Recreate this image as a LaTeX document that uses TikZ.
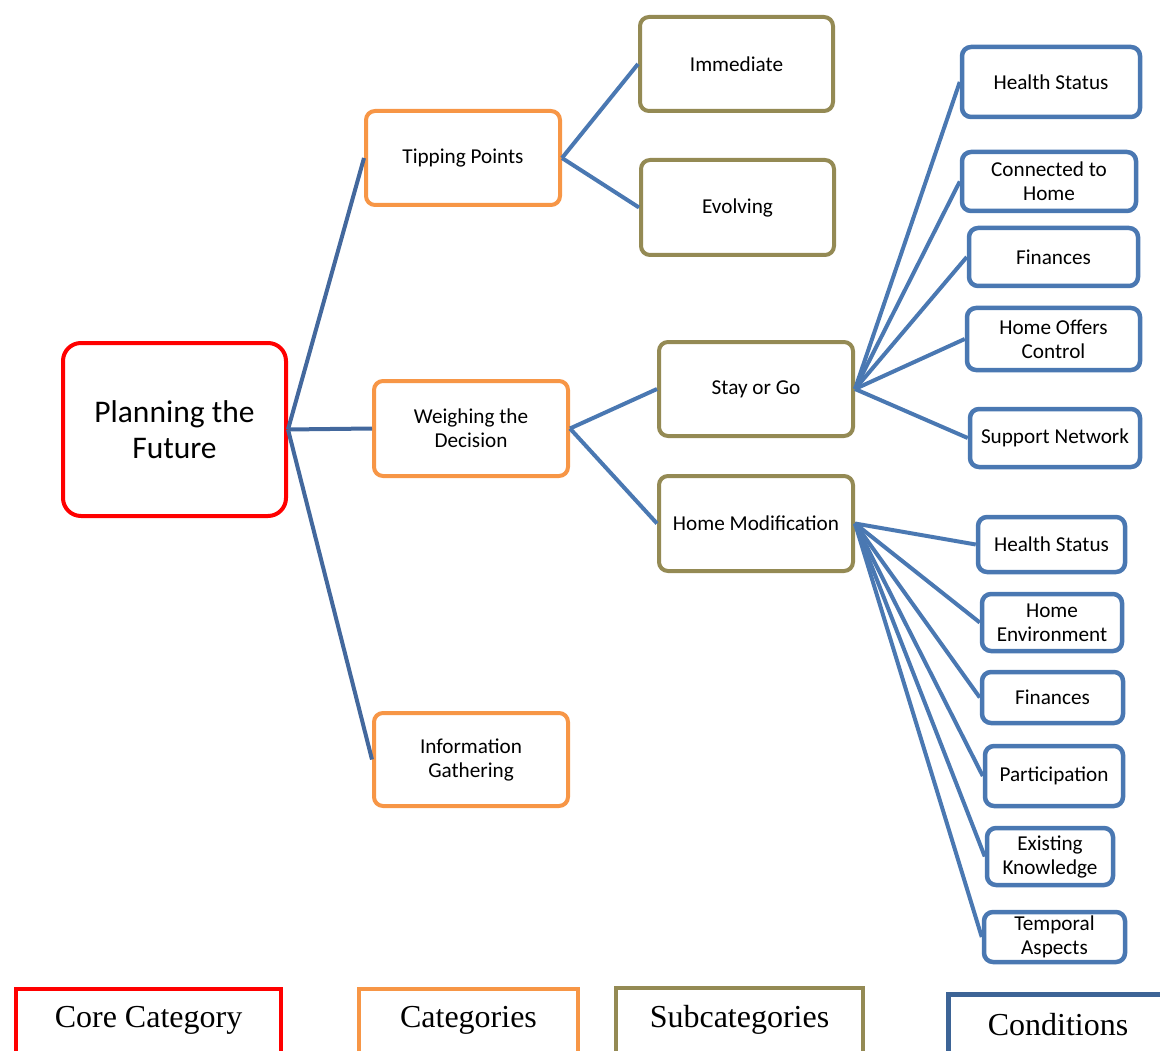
\documentclass[tikz,border=0pt]{standalone}
\usepackage{fontspec}
\setmainfont{Carlito}
\newfontfamily\legendfont{Liberation Serif}
\definecolor{corered}{HTML}{FF0000}
\definecolor{catorange}{HTML}{F79646}
\definecolor{subolive}{HTML}{948A54}
\definecolor{condblue}{HTML}{4A78B2}
\definecolor{linkblue}{HTML}{4A78B2}
\definecolor{trunkblue}{HTML}{43689D}
\definecolor{legblue}{HTML}{3D6496}
\tikzset{
  box/.style={draw, line width=4pt, rounded corners=9pt, fill=white,
    align=center, inner sep=2pt, font=\fontsize{21.2}{24}\selectfont},
  corebox/.style={box, draw=corered, rounded corners=18pt,
    font=\fontsize{31.5}{36}\selectfont},
  catbox/.style={box, draw=catorange},
  subbox/.style={box, draw=subolive},
  condbox/.style={box, draw=condblue, line width=4.5pt},
  link/.style={draw=linkblue, line width=4pt},
  trunk/.style={draw=trunkblue, line width=4pt},
  legtext/.style={font=\legendfont\fontsize{32}{34}\selectfont, inner sep=0pt},
  legbox/.style={line width=4pt}
}
\begin{document}
\begin{tikzpicture}[x=1pt, y=-1pt]
\useasboundingbox (0,0) rectangle (1160,1051);
\clip (0,0) rectangle (1160,1051);

% core category
\node[corebox, minimum width=223pt, minimum height=173pt] (core) at (174.5,429.5) {Planning the\\Future};

% categories
\node[catbox, minimum width=194pt, minimum height=94pt] (tip) at (463,158) {Tipping Points};
\node[catbox, minimum width=194pt, minimum height=95pt] (weigh) at (471,428.5) {Weighing the\\Decision};
\node[catbox, minimum width=194pt, minimum height=93pt] (info) at (471,759.5) {Information\\Gathering};

% subcategories
\node[subbox, minimum width=193pt, minimum height=94pt] (imm) at (736.5,64) {Immediate};
\node[subbox, minimum width=193pt, minimum height=95pt] (evo) at (737.5,207.5) {Evolving};
\node[subbox, minimum width=194pt, minimum height=94pt] (stay) at (756,389) {Stay or Go};
\node[subbox, minimum width=194pt, minimum height=95pt] (hmod) at (756,523.5) {Home Modification};

% conditions of staying or going
\node[condbox, minimum width=178pt, minimum height=70pt] (hsA) at (1051,82) {Health Status};
\node[condbox, minimum width=174pt, minimum height=59pt] (cth) at (1049,181.5) {Connected to\\Home};
\node[condbox, minimum width=169pt, minimum height=58pt] (finA) at (1053.5,257) {Finances};
\node[condbox, minimum width=173pt, minimum height=62pt] (hoc) at (1053.5,339) {Home Offers\\Control};
\node[condbox, minimum width=170pt, minimum height=58pt] (sn) at (1055,438) {Support Network};

% conditions of home modification
\node[condbox, minimum width=147pt, minimum height=55pt] (hsB) at (1051.5,544.5) {Health Status};
\node[condbox, minimum width=140pt, minimum height=57pt] (henv) at (1052,622.5) {Home\\Environment};
\node[condbox, minimum width=141pt, minimum height=51pt] (finB) at (1052.5,697.5) {Finances};
\node[condbox, minimum width=138pt, minimum height=60pt] (part) at (1054,776) {Participation};
\node[condbox, minimum width=126pt, minimum height=57pt] (ek) at (1050,856.5) {Existing\\Knowledge};
\node[condbox, minimum width=141pt, minimum height=50pt] (ta) at (1054.5,937) {Temporal\\Aspects};

% connectors
\path[trunk] (core.east) -- (tip.west);
\path[trunk] (core.east) -- (weigh.west);
\path[trunk] (core.east) -- (info.west);
\path[link] (tip.east) -- (imm.west);
\path[link] (tip.east) -- (evo.west);
\path[link] (weigh.east) -- (stay.west);
\path[link] (weigh.east) -- (hmod.west);
\foreach \c in {hsA,cth,finA,hoc,sn}
  \path[link] (stay.east) -- (\c.west);
\foreach \c in {hsB,henv,finB,part,ek,ta}
  \path[link] (hmod.east) -- (\c.west);

% legend
\node[legtext] (lcore) at (148.5,1020) {Core Category};
\node[legtext] (lcat) at (468.5,1020) {Categories};
\node[legtext] (lsub) at (739.5,1020) {Subcategories};
\node[legtext] (lcond) at (1058,1025) {Conditions};
\draw[legbox, draw=corered] (16,1060) -- (16,989) -- (281,989) -- (281,1060);
\draw[legbox, draw=catorange] (359,1060) -- (359,989) -- (578,989) -- (578,1060);
\draw[legbox, draw=subolive] (616,1060) -- (616,988) -- (863,988) -- (863,1060);
\draw[legbox, draw=legblue, line width=5pt] (948.5,1060) -- (948.5,994) -- (1165,994);
\end{tikzpicture}
\end{document}
